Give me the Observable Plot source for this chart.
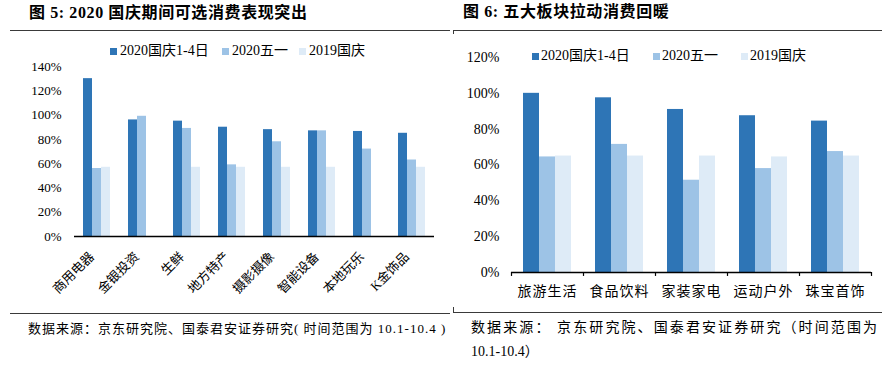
<!DOCTYPE html>
<html>
<head>
<meta charset="utf-8">
<script src="https://cdn.jsdelivr.net/npm/d3@7"></script>
<script src="https://cdn.jsdelivr.net/npm/@observablehq/plot@0.6"></script>
<style>
  html, body { margin: 0; padding: 0; background: #fff; }
  #root { position: relative; width: 893px; height: 366px; overflow: hidden; background: #fff;
          font-family: 'Liberation Serif', 'Noto Sans CJK SC', serif; color: #000; }
  .abs { position: absolute; white-space: nowrap; }
  .title { font-weight: bold; font-size: 16px; line-height: 20px; letter-spacing: 0.6px; }
  .hline { position: absolute; height: 1px; background: #3a3a3a; }
  .vline { position: absolute; width: 1px; background: #3a3a3a; }
  .sw { position: absolute; width: 7px; height: 7px; }
  .lg { position: absolute; font-size: 14px; line-height: 16px; white-space: nowrap; }
  .cap { position: absolute; font-size: 13px; line-height: 16px; white-space: nowrap; }
  svg { position: absolute; }
  #right g[aria-label^="fx-axis"] text { letter-spacing: 1px; }
</style>
</head>
<body>
<div id="root"></div>
<script>
// ---------- data ----------
const series = ["2020国庆1-4日", "2020五一", "2019国庆"];
const seriesColors = ["#2E75B6", "#9DC3E6", "#DEEBF7"];

const leftCategories = ["商用电器", "金银投资", "生鲜", "地方特产", "摄影摄像", "智能设备", "本地玩乐", "K金饰品"];
const leftNationalDay2020 = [1.30, 0.96, 0.95, 0.90, 0.88, 0.87, 0.865, 0.85];
const leftMayDay2020 = [0.56, 0.99, 0.89, 0.59, 0.78, 0.87, 0.72, 0.63];
const leftNationalDay2019 = [0.57, null, 0.57, 0.57, 0.57, 0.57, null, 0.57];
const leftYTicks = [0, 0.2, 0.4, 0.6, 0.8, 1.0, 1.2, 1.4];

const rightCategories = ["旅游生活", "食品饮料", "家装家电", "运动户外", "珠宝首饰"];
const rightNationalDay2020 = [1.00, 0.975, 0.91, 0.875, 0.845];
const rightMayDay2020 = [0.645, 0.715, 0.515, 0.58, 0.675];
const rightNationalDay2019 = [0.65, 0.65, 0.65, 0.645, 0.65];
const rightYTicks = [0, 0.2, 0.4, 0.6, 0.8, 1.0, 1.2];

const leftTitle = "图 5:  2020 国庆期间可选消费表现突出";
const rightTitle = "图 6:  五大板块拉动消费回暖";
const leftCaption = "数据来源：京东研究院、国泰君安证券研究( 时间范围为 10.1-10.4 )";
const rightCaption1 = "数据来源： 京东研究院、国泰君安证券研究（时间范围为";
const rightCaption2 = "10.1-10.4）";

// ---------- helpers ----------
const FONT = "'Liberation Serif', 'Noto Sans CJK SC', serif";
const pct = d => Math.round(d * 100) + "%";
function toRows(cats, arrays) {
  const out = [];
  cats.forEach((c, i) => arrays.forEach((arr, j) => {
    if (arr[i] != null) out.push({category: c, series: series[j], value: arr[i]});
  }));
  return out;
}
const leftRows = toRows(leftCategories, [leftNationalDay2020, leftMayDay2020, leftNationalDay2019]);
const rightRows = toRows(rightCategories, [rightNationalDay2020, rightMayDay2020, rightNationalDay2019]);

const root = document.getElementById("root");
function add(cls, text, css) {
  const el = document.createElement("div");
  el.className = cls;
  if (text != null) el.textContent = text;
  Object.assign(el.style, css);
  root.appendChild(el);
  return el;
}

// ---------- frame texts & lines ----------
add("abs title", leftTitle, {left: "29px", top: "3px"});
add("abs title", rightTitle, {left: "463px", top: "2px"});
add("hline", null, {left: "10px", top: "30px", width: "440px"});
add("hline", null, {left: "453px", top: "30px", width: "429px"});
add("vline", null, {left: "453px", top: "30px", height: "4px"});
add("hline", null, {left: "10px", top: "313px", width: "440px"});
add("hline", null, {left: "453px", top: "312px", width: "429px"});
add("vline", null, {left: "453px", top: "307px", height: "5px"});

// legends
const leftLegendX = [110, 222, 299];
const rightLegendX = [532, 653, 741];
series.forEach((s, i) => {
  add("sw", null, {left: leftLegendX[i] + "px", top: "48px", background: seriesColors[i]});
  add("lg", s, {left: (leftLegendX[i] + 10) + "px", top: "43px"});
  add("sw", null, {left: rightLegendX[i] + "px", top: "53px", background: seriesColors[i]});
  add("lg", s, {left: (rightLegendX[i] + 9) + "px", top: "48px"});
});

add("cap", leftCaption, {left: "28px", top: "321px", letterSpacing: "1px"});
add("cap", rightCaption1, {left: "471px", top: "320px", fontSize: "14px", letterSpacing: "2.1px"});
add("cap", rightCaption2, {left: "471px", top: "344px", fontSize: "14px"});

// ---------- left chart ----------
const hasAxisMarks = typeof Plot.axisFx === "function";
const leftMarks = [
  Plot.barY(leftRows, {fx: "category", x: "series", y: "value", fill: "series"}),
  Plot.ruleY([0], {stroke: "#000", strokeWidth: 1.5})
];
if (hasAxisMarks) {
  leftMarks.push(Plot.axisFx({anchor: "bottom", tickRotate: -45, tickSize: 0, tickPadding: 4, label: null, dx: -5, dy: 14}));
}
const left = Plot.plot({
  width: 450, height: 254,
  marginTop: 10, marginBottom: 74, marginLeft: 71, marginRight: 14,
  style: {fontFamily: FONT, fontSize: "13px", color: "#000", background: "none", overflow: "visible"},
  fx: hasAxisMarks
    ? {domain: leftCategories, padding: 0, axis: null}
    : {domain: leftCategories, padding: 0, axis: "bottom", label: null, tickRotate: -45, tickSize: 0, tickPadding: 16},
  x: {domain: series, axis: null, paddingInner: 0, paddingOuter: 0.78},
  y: {domain: [0, 1.4], ticks: leftYTicks, tickFormat: pct, tickSize: 0, tickPadding: 13, label: null},
  color: {domain: series, range: seriesColors},
  marks: leftMarks
});
left.style.left = "0px";
left.style.top = "56px";
root.appendChild(left);

// ---------- right chart ----------
const RW = 443, RML = 61, RMR = 22, RPAD = 0.75;
const facetW = (RW - RML - RMR) / rightCategories.length;
const step = facetW / (series.length + 2 * RPAD);
const edgeOffset = step * RPAD + step / 2;
const right = Plot.plot({
  width: RW, height: 270,
  marginTop: 17, marginBottom: 38, marginLeft: RML, marginRight: RMR,
  style: {fontFamily: FONT, fontSize: "14px", color: "#000", background: "none", overflow: "visible"},
  fx: {domain: rightCategories, padding: 0, axis: "bottom", label: null, tickSize: 0, tickPadding: 14},
  x: {domain: series, axis: null, paddingInner: 0, paddingOuter: RPAD},
  y: {domain: [0, 1.2], ticks: rightYTicks, tickFormat: pct, tickSize: 0, tickPadding: 12, label: null},
  color: {domain: series, range: seriesColors},
  marks: [
    Plot.barY(rightRows, {fx: "category", x: "series", y: "value", fill: "series"}),
    Plot.ruleY([0], {stroke: "#000", strokeWidth: 1.5}),
    Plot.ruleX(rightCategories.map(c => ({category: c, series: series[0]})),
      {fx: "category", x: "series", y1: 0, y2: -0.022, stroke: "#000", strokeWidth: 1.2, dx: -edgeOffset}),
    Plot.ruleX([{category: rightCategories[rightCategories.length - 1], series: series[series.length - 1]}],
      {fx: "category", x: "series", y1: 0, y2: -0.022, stroke: "#000", strokeWidth: 1.2, dx: edgeOffset})
  ]
});
right.id = "right";
right.style.left = "450px";
right.style.top = "40px";
root.appendChild(right);
</script>
</body>
</html>
